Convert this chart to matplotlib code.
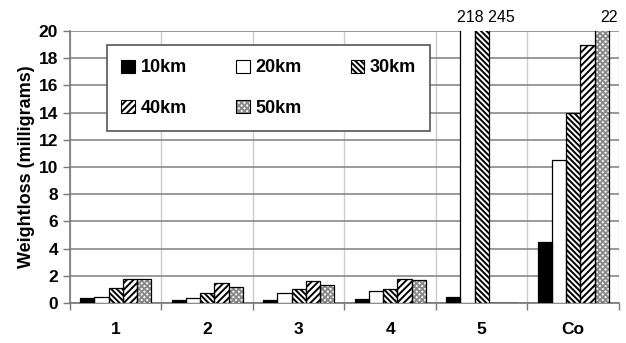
import numpy as np
import matplotlib.pyplot as plt
from matplotlib.patches import Patch
from matplotlib.legend_handler import HandlerTuple

plt.rcParams['font.family'] = ['Liberation Sans', 'DejaVu Sans']
plt.rcParams['hatch.linewidth'] = 1.4

# data
groups = ['1', '2', '3', '4', '5', 'Co']
series = ['10km', '20km', '30km', '40km', '50km']
v10 = [0.4, 0.25, 0.2, 0.3, 0.45, 4.5]
v20 = [0.45, 0.35, 0.7, 0.85, 218, 10.5]
v30 = [1.1, 0.7, 1.0, 1.05, 245, 14]
v40 = [1.75, 1.5, 1.65, 1.8, 0, 19]
v50 = [1.75, 1.2, 1.35, 1.7, 0, 22]
values = [v10, v20, v30, v40, v50]

styles = [
    dict(face='black', hatch=None, hc='black'),
    dict(face='white', hatch=None, hc='black'),
    dict(face='white', hatch='\\\\\\\\\\\\', hc='black'),
    dict(face='white', hatch='/////', hc='black'),
    dict(face='white', hatch='xxxxxx', hc='#8a8a8a'),
]

fig = plt.figure(figsize=(6.26, 3.43), dpi=100)
ax = fig.add_axes([0.1118, 0.1166, 0.8770, 0.7930])

x = np.arange(len(groups))
w = 0.155
handles = []
for i, (vals, st) in enumerate(zip(values, styles)):
    pos = x - 2 * w + i * w
    # hatch layer
    ax.bar(pos, vals, w, color=st['face'], hatch=st['hatch'],
           edgecolor=st['hc'], linewidth=0, zorder=3)
    # outline layer
    ax.bar(pos, vals, w, fill=False, edgecolor='black', linewidth=0.9, zorder=4)
    h1 = Patch(facecolor=st['face'], hatch=st['hatch'], edgecolor=st['hc'], linewidth=0)
    h2 = Patch(fill=False, edgecolor='black', linewidth=0.8)
    handles.append((h1, h2))

ax.set_xlim(-0.5, len(groups) - 0.5)
ax.set_ylim(0, 20)
ax.set_yticks(range(0, 21, 2))
ax.set_xticks(x)
ax.set_xticklabels(groups, fontsize=12.5, fontweight='bold')
ax.tick_params(axis='x', length=0, pad=14)
ax.set_xticks(np.arange(-0.5, len(groups)), minor=True)
ax.tick_params(axis='x', which='minor', length=5, color='#777777', width=1)
ax.tick_params(axis='y', length=5, color='#777777', width=1, labelsize=12.5)
for lab in ax.get_yticklabels():
    lab.set_fontweight('bold')
ax.set_ylabel('Weightloss (milligrams)', fontsize=13, fontweight='bold', labelpad=3)

ax.grid(axis='y', color='#888888', linewidth=1.2, zorder=0)
ax.grid(axis='x', which='minor', color='#cccccc', linewidth=1, zorder=0)
ax.set_axisbelow(True)
for s in ['top', 'right']:
    ax.spines[s].set_visible(False)
for s in ['left', 'bottom']:
    ax.spines[s].set_color('#777777')
    ax.spines[s].set_linewidth(1.2)

# labels for clipped bars
ax.text(4 + 0.05, 20.45, '%d %d' % (v20[4], v30[4]), ha='center', va='bottom',
        fontsize=11.5, clip_on=False)
ax.text(5 + 2 * w + 0.08, 20.45, '%d' % v50[5], ha='center', va='bottom',
        fontsize=11.5, clip_on=False)

order = [0, 3, 1, 4, 2]
leg = ax.legend([handles[i] for i in order], [series[i] for i in order],
                handler_map={tuple: HandlerTuple(ndivide=1)},
                ncol=3, loc='upper left',
                bbox_to_anchor=(0.0674, 0.632, 0.589, 0.3165), mode='expand',
                prop=dict(size=13, weight='bold'), frameon=True, fancybox=False,
                edgecolor='#555555', framealpha=1, handlelength=0.75,
                handleheight=0.75, handletextpad=0.3, labelspacing=1.3,
                borderpad=0.8, borderaxespad=0)
leg.get_frame().set_linewidth(1.2)

fig.savefig('out.png', dpi=100)
